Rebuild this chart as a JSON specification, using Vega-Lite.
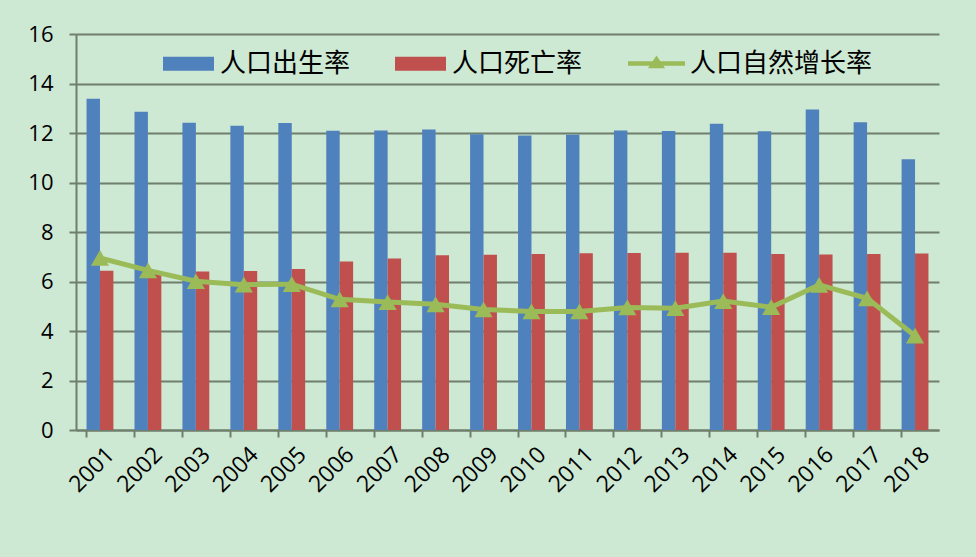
{
  "$schema": "https://vega.github.io/schema/vega-lite/v6.json",
  "width": 863,
  "height": 396,
  "autosize": {"type": "none"},
  "padding": {"left": 76, "top": 34, "right": 37, "bottom": 127},
  "background": "#cde8d3",
  "config": {"view": {"stroke": null}, "font": "Open Sans"},
  "data": {
    "values": [
      {"year": "2001", "series": "人口出生率", "value": 13.38},
      {"year": "2002", "series": "人口出生率", "value": 12.86},
      {"year": "2003", "series": "人口出生率", "value": 12.41},
      {"year": "2004", "series": "人口出生率", "value": 12.29},
      {"year": "2005", "series": "人口出生率", "value": 12.40},
      {"year": "2006", "series": "人口出生率", "value": 12.09},
      {"year": "2007", "series": "人口出生率", "value": 12.10},
      {"year": "2008", "series": "人口出生率", "value": 12.14},
      {"year": "2009", "series": "人口出生率", "value": 11.95},
      {"year": "2010", "series": "人口出生率", "value": 11.90},
      {"year": "2011", "series": "人口出生率", "value": 11.93},
      {"year": "2012", "series": "人口出生率", "value": 12.10},
      {"year": "2013", "series": "人口出生率", "value": 12.08},
      {"year": "2014", "series": "人口出生率", "value": 12.37},
      {"year": "2015", "series": "人口出生率", "value": 12.07},
      {"year": "2016", "series": "人口出生率", "value": 12.95},
      {"year": "2017", "series": "人口出生率", "value": 12.43},
      {"year": "2018", "series": "人口出生率", "value": 10.94},
      {"year": "2001", "series": "人口死亡率", "value": 6.43},
      {"year": "2002", "series": "人口死亡率", "value": 6.41},
      {"year": "2003", "series": "人口死亡率", "value": 6.40},
      {"year": "2004", "series": "人口死亡率", "value": 6.42},
      {"year": "2005", "series": "人口死亡率", "value": 6.51},
      {"year": "2006", "series": "人口死亡率", "value": 6.81},
      {"year": "2007", "series": "人口死亡率", "value": 6.93},
      {"year": "2008", "series": "人口死亡率", "value": 7.06},
      {"year": "2009", "series": "人口死亡率", "value": 7.08},
      {"year": "2010", "series": "人口死亡率", "value": 7.11},
      {"year": "2011", "series": "人口死亡率", "value": 7.14},
      {"year": "2012", "series": "人口死亡率", "value": 7.15},
      {"year": "2013", "series": "人口死亡率", "value": 7.16},
      {"year": "2014", "series": "人口死亡率", "value": 7.16},
      {"year": "2015", "series": "人口死亡率", "value": 7.11},
      {"year": "2016", "series": "人口死亡率", "value": 7.09},
      {"year": "2017", "series": "人口死亡率", "value": 7.11},
      {"year": "2018", "series": "人口死亡率", "value": 7.13},
      {"year": "2001", "series": "人口自然增长率", "value": 6.95},
      {"year": "2002", "series": "人口自然增长率", "value": 6.45},
      {"year": "2003", "series": "人口自然增长率", "value": 6.01},
      {"year": "2004", "series": "人口自然增长率", "value": 5.87},
      {"year": "2005", "series": "人口自然增长率", "value": 5.89},
      {"year": "2006", "series": "人口自然增长率", "value": 5.28},
      {"year": "2007", "series": "人口自然增长率", "value": 5.17},
      {"year": "2008", "series": "人口自然增长率", "value": 5.08},
      {"year": "2009", "series": "人口自然增长率", "value": 4.87},
      {"year": "2010", "series": "人口自然增长率", "value": 4.79},
      {"year": "2011", "series": "人口自然增长率", "value": 4.79},
      {"year": "2012", "series": "人口自然增长率", "value": 4.95},
      {"year": "2013", "series": "人口自然增长率", "value": 4.92},
      {"year": "2014", "series": "人口自然增长率", "value": 5.21},
      {"year": "2015", "series": "人口自然增长率", "value": 4.96},
      {"year": "2016", "series": "人口自然增长率", "value": 5.86},
      {"year": "2017", "series": "人口自然增长率", "value": 5.32},
      {"year": "2018", "series": "人口自然增长率", "value": 3.81}
    ]
  },
  "encoding": {
    "x": {
      "field": "year",
      "type": "nominal",
      "scale": {"paddingInner": 0.44, "paddingOuter": 0.22},
      "axis": {
        "title": null,
        "labelAngle": -45,
        "labelFontSize": 23,
        "labelColor": "#000000",
        "labelPadding": 6,
        "labelOffset": 3,
        "ticks": true,
        "bandPosition": 0,
        "tickSize": 7,
        "tickWidth": 2,
        "tickColor": "#6f7f6c",
        "domainColor": "#6f7f6c",
        "domainWidth": 2,
        "grid": false
      }
    },
    "y": {
      "field": "value",
      "type": "quantitative",
      "scale": {"domain": [0, 16], "nice": false},
      "axis": {
        "title": null,
        "values": [0, 2, 4, 6, 8, 10, 12, 14, 16],
        "labelFontSize": 22,
        "labelColor": "#000000",
        "labelPadding": 16,
        "tickSize": 7,
        "tickWidth": 2,
        "tickColor": "#6f7f6c",
        "domainColor": "#6f7f6c",
        "domainWidth": 2,
        "grid": true,
        "gridColor": "#6f7f6c",
        "gridWidth": 2,
        "gridOpacity": 1
      }
    }
  },
  "layer": [
    {
      "transform": [{"filter": {"field": "series", "oneOf": ["人口出生率", "人口死亡率"]}}],
      "mark": {"type": "bar"},
      "encoding": {
        "xOffset": {
          "field": "series",
          "type": "nominal",
          "sort": ["人口出生率", "人口死亡率"],
          "scale": {"paddingInner": 0, "paddingOuter": 0}
        },
        "color": {
          "field": "series",
          "type": "nominal",
          "scale": {"domain": ["人口出生率", "人口死亡率"], "range": ["#4f81bd", "#c0504d"]},
          "legend": {
            "title": null,
            "orient": "none",
            "legendX": 87,
            "legendY": 4,
            "direction": "horizontal",
            "symbolType": "M-1,-0.275H1V0.275H-1Z",
            "symbolSize": 2601,
            "symbolStrokeWidth": 0,
            "labelFont": "Noto Sans CJK SC",
            "labelFontSize": 26,
            "labelColor": "#000000",
            "labelOffset": 6,
            "labelLimit": 400,
            "columnPadding": 44
          }
        }
      }
    },
    {
      "transform": [{"filter": {"field": "series", "equal": "人口自然增长率"}}],
      "mark": {"type": "line", "strokeWidth": 5},
      "encoding": {
        "stroke": {
          "field": "series",
          "type": "nominal",
          "scale": {"domain": ["人口自然增长率"], "range": ["#9bbb59"]},
          "legend": {
            "title": null,
            "orient": "none",
            "legendX": 552,
            "legendY": 1,
            "direction": "horizontal",
            "symbolType": "M-1,-0.08H1V0.08H-1Z M0,-0.28L0.3,0.17H-0.3Z",
            "symbolSize": 3249,
            "symbolFillColor": "#9bbb59",
            "symbolStrokeWidth": 0,
            "labelFont": "Noto Sans CJK SC",
            "labelFontSize": 26,
            "labelColor": "#000000",
            "labelOffset": 5,
            "labelLimit": 400,
            "encode": {"symbols": {"update": {"fill": {"value": "#9bbb59"}, "strokeWidth": {"value": 0}}}}
          }
        }
      }
    },
    {
      "transform": [{"filter": {"field": "series", "equal": "人口自然增长率"}}],
      "mark": {"type": "point", "shape": "triangle-up", "filled": true, "size": 330, "color": "#9bbb59", "opacity": 1},
      "encoding": {}
    }
  ]
}
